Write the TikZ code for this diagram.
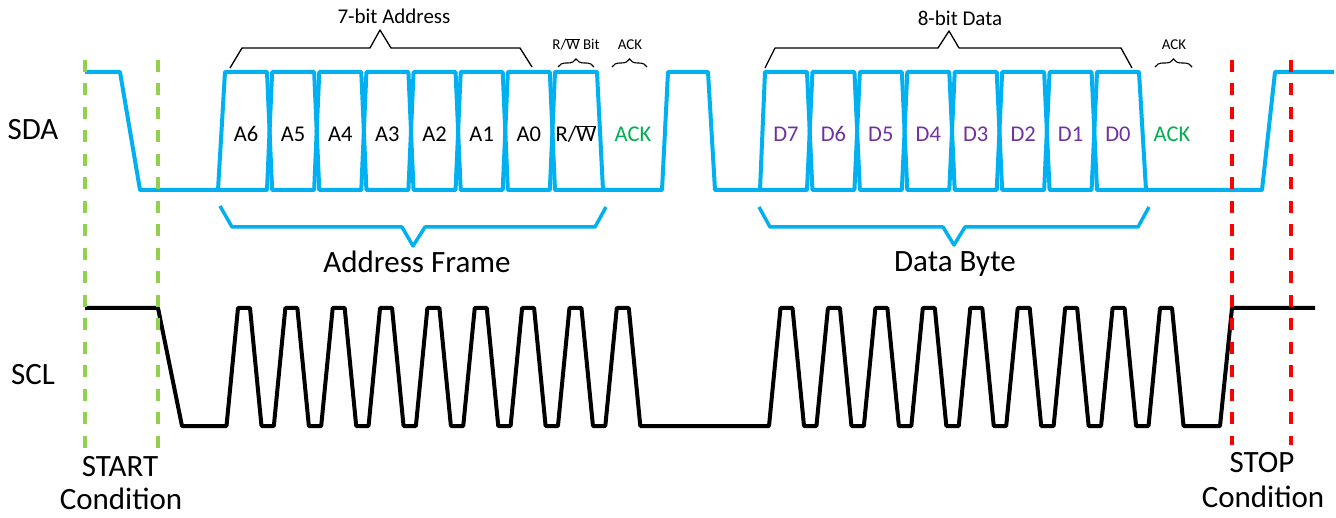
\documentclass[tikz,border=0pt]{standalone}
\usepackage{fontspec}
\setmainfont{Carlito}
\usetikzlibrary{decorations.pathreplacing}
\definecolor{sdablue}{HTML}{00B0F0}
\definecolor{ackgreen}{HTML}{00B050}
\definecolor{datapurple}{HTML}{7030A0}
\definecolor{startgreen}{HTML}{92D050}
\definecolor{stopred}{HTML}{FF0000}
\begin{document}
\begin{tikzpicture}[x=1pt,y=-1pt,
  sig/.style={line width=4pt,line join=round},
  sdaline/.style={sig,draw=sdablue},
  sclline/.style={sig,draw=black},
  condline/.style={line width=3.5pt,dash pattern=on 12pt off 11.5pt},
  bigtxt/.style={inner sep=0pt,anchor=base,font=\fontsize{31}{37}\selectfont},
  bittxt/.style={inner sep=0pt,anchor=base,font=\fontsize{22.5}{27}\selectfont},
  captxt/.style={inner sep=0pt,anchor=base,font=\fontsize{21}{25}\selectfont},
  smalltxt/.style={inner sep=0pt,anchor=base,font=\fontsize{15}{18}\selectfont},
  thinbrace/.style={line width=1.3pt,line join=round},
  curly/.style={line width=1.1pt,decorate,decoration={brace,amplitude=8pt}},
  bluebrace/.style={line width=3.5pt,draw=sdablue,line join=round},
]
\useasboundingbox (0,0) rectangle (1336,518);

% ---------- SDA waveform ----------
\draw[sdaline] (85,72) -- (120,72) -- (140,190) -- (267,190) -- (269.57,131) -- (267,72) -- (225,72) -- (218,190);
\foreach \i in {1,...,6}{
  \pgfmathsetmacro\L{225+47.14*\i}
  \pgfmathsetmacro\R{\L+42}
  \draw[sdaline] (\L,72) -- (\R,72) -- (\R+2.57,131) -- (\R,190) -- (\L,190) -- (\L-2.57,131) -- cycle;
}
\draw[sdaline] (603,190) -- (554.98,190) -- (552.41,131) -- (554.98,72) -- (596.98,72) -- (603,190)
  -- (662,190) -- (668,72) -- (708,72) -- (715,190) -- (807,190) -- (809.72,131) -- (807,72) -- (765,72) -- (760,190);
\foreach \i in {1,...,6}{
  \pgfmathsetmacro\L{765+47.43*\i}
  \pgfmathsetmacro\R{\L+42}
  \draw[sdaline] (\L,72) -- (\R,72) -- (\R+2.72,131) -- (\R,190) -- (\L,190) -- (\L-2.72,131) -- cycle;
}
\draw[sdaline] (1146,190) -- (1097,190) -- (1094.28,131) -- (1097,72) -- (1139,72) -- (1146,190)
  -- (1262,190) -- (1275,72) -- (1334,72);

% ---------- SCL waveform ----------
\draw[sclline] (85,308) -- (158,308) -- (182,426)
  \foreach \k in {0,...,8}{ -- ({244+47.35*\k-17.5},426) -- ({244+47.35*\k-6},308) -- ({244+47.35*\k+6},308) -- ({244+47.35*\k+17.5},426) }
  -- (769,426)
  \foreach \k in {0,...,8}{ -- ({786.5+47.44*\k-17.5},426) -- ({786.5+47.44*\k-6},308) -- ({786.5+47.44*\k+6},308) -- ({786.5+47.44*\k+17.5},426) }
  -- (1220,426) -- (1232,308) -- (1315,308);

% ---------- braces ----------
\draw[thinbrace] (230,68) -- (242,48) -- (370,48) -- (380,30) -- (391,48) -- (520,48) -- (532,67);
\draw[thinbrace] (765,68) -- (775,48) -- (938,48) -- (949,31) -- (959,48) -- (1121,48) -- (1132,68);
\draw[bluebrace] (220,206) -- (232,227) -- (402,227) -- (413,246) -- (425,227) -- (595,227) -- (606,207);
\draw[bluebrace] (759,207) -- (770,227) -- (943,227) -- (954,245) -- (965,227) -- (1138,227) -- (1149,207);
\draw[curly] (558,67) -- (594,67);
\draw[curly] (612,67) -- (647,67);
\draw[curly] (1155,67) -- (1192,67);

% ---------- texts ----------
\node[bigtxt] (sda) at (33,140) {SDA};
\node[bigtxt] (scl) at (33,385) {SCL};
\node[bigtxt] (addrframe) at (417,272.7) {Address Frame};
\node[bigtxt] (databyte) at (955,272) {Data Byte};
\node[bigtxt] (start) at (120,476) {START};
\node[bigtxt] (startcond) at (121,509) {Condition};
\node[bigtxt] (stop) at (1262,472) {STOP};
\node[bigtxt] (stopcond) at (1263,507) {Condition};

\node[captxt] (addrcap) at (394,24) {7-bit Address};
\node[captxt] (datacap) at (960,26) {8-bit Data};
\node[smalltxt] (rwcap) at (576,50) {R/$\overline{\hbox{W}}$ Bit};
\node[smalltxt] (ackcapa) at (630,50) {ACK};
\node[smalltxt] (ackcapb) at (1174,50) {ACK};

\foreach \lab [count=\i from 0] in {A6,A5,A4,A3,A2,A1,A0}{
  \node[bittxt] (bit-\lab) at ({246+47.14*\i},141.7) {\lab};
}
\node[bittxt] (bit-rw) at (576,141.7) {R/$\overline{\hbox{W}}$};
\node[bittxt,text=ackgreen] (bit-acka) at (633,141.7) {ACK};
\foreach \lab [count=\i from 0] in {D7,D6,D5,D4,D3,D2,D1,D0}{
  \node[bittxt,text=datapurple] (bit-\lab) at ({786+47.43*\i},141.7) {\lab};
}
\node[bittxt,text=ackgreen] (bit-ackb) at (1172,141.7) {ACK};

% ---------- condition markers ----------
\draw[condline,draw=startgreen] (85,60) -- (85,452);
\draw[condline,draw=startgreen] (158,60) -- (158,452);
\draw[condline,draw=stopred] (1232,60) -- (1232,445);
\draw[condline,draw=stopred] (1291,60) -- (1291,445);
\end{tikzpicture}
\end{document}
